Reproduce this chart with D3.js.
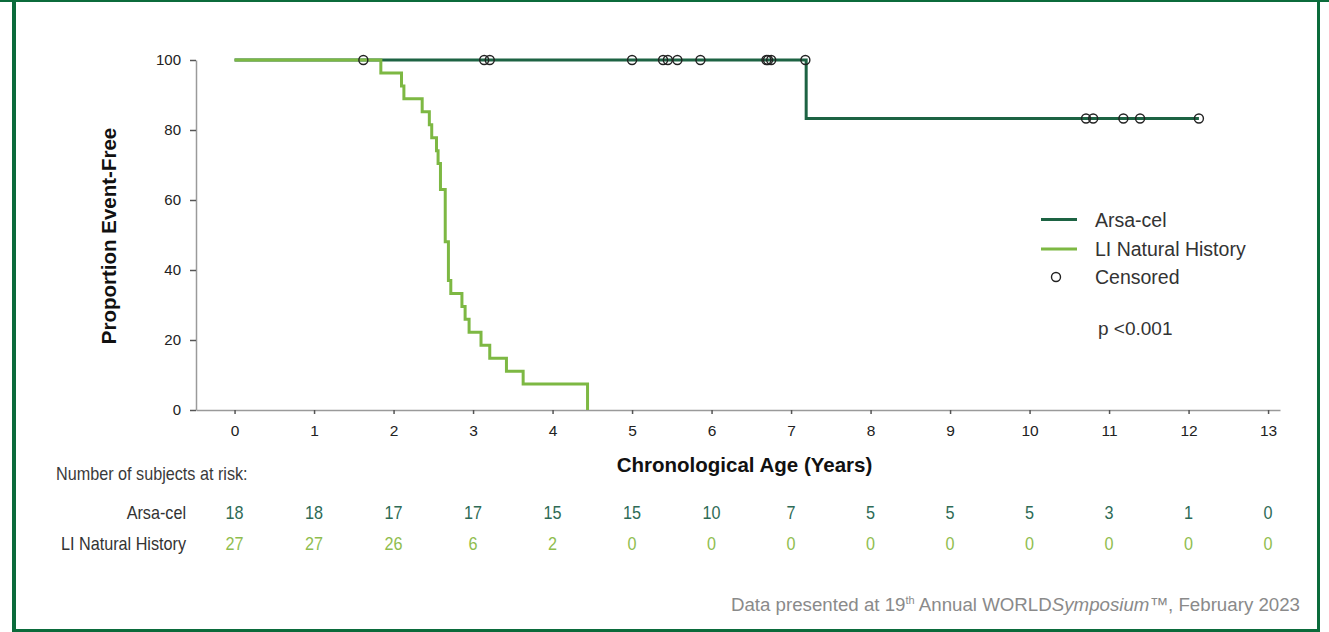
<!DOCTYPE html>
<html>
<head>
<meta charset="utf-8">
<script src="https://cdn.jsdelivr.net/npm/d3@7"></script>
<style>
  body { margin: 0; background: #fff; }
  svg { display: block; font-family: "Liberation Sans", Arial, sans-serif; }
</style>
</head>
<body>
<div id="chart"></div>
<script>
// at-risk table
const years = [0, 1, 2, 3, 4, 5, 6, 7, 8, 9, 10, 11, 12, 13];
const atRiskArsa = [18, 18, 17, 17, 15, 15, 10, 7, 5, 5, 5, 3, 1, 0];
const atRiskLI = [27, 27, 26, 6, 2, 0, 0, 0, 0, 0, 0, 0, 0, 0];

// Kaplan-Meier steps (time, % event-free)
const arsaTimes = [0, 7.19, 12.13];
const arsaSurv = [100, 83.3, 83.3];
const liTimes = [0, 1.84, 2.10, 2.13, 2.36, 2.45, 2.48, 2.54, 2.56, 2.59, 2.65, 2.69, 2.72, 2.86, 2.90, 2.95, 3.10, 3.21, 3.42, 3.63, 4.44];
const liSurv = [100, 96.3, 92.6, 88.9, 85.2, 81.5, 77.8, 74.1, 70.4, 63.0, 48.1, 37.0, 33.3, 29.6, 25.9, 22.2, 18.5, 14.8, 11.1, 7.4, 0];

// censored observations (Arsa-cel)
const arsaCensored = [1.62, 3.14, 3.21, 5.0, 5.39, 5.45, 5.57, 5.86, 6.69, 6.71, 6.75, 7.18, 10.71, 10.80, 11.18, 11.39, 12.13];

const yTicks = [0, 20, 40, 60, 80, 100];

const darkGreen = '#1d6343',
      lightGreen = '#7db843',
      frameGreen = '#0b6b3b',
      textGray = '#333';

const width = 1329, height = 632;

const svg = d3.select('#chart')
  .append('svg')
    .attr('width', width)
    .attr('height', height);

// frame
svg.append('rect').attr('x', 0).attr('y', 0).attr('width', width).attr('height', 2).attr('fill', frameGreen);
svg.append('rect').attr('x', 12).attr('y', 0).attr('width', 4).attr('height', height).attr('fill', frameGreen);
svg.append('rect').attr('x', 1317).attr('y', 0).attr('width', 3).attr('height', height).attr('fill', frameGreen);
svg.append('rect').attr('x', 12).attr('y', 629).attr('width', 1308).attr('height', 3).attr('fill', frameGreen);

const x = d3.scaleLinear().domain([-0.485, 13.15]).range([196, 1280]);
const y = d3.scaleLinear().domain([0, 100]).range([410, 60]);

// axes
const xAxis = svg.append('g')
    .attr('transform', `translate(0,${y(0)})`)
    .call(d3.axisBottom(x).tickValues(years).tickSize(4).tickSizeOuter(0).tickPadding(11));

const yAxis = svg.append('g')
    .attr('transform', `translate(${x.range()[0]},0)`)
    .call(d3.axisLeft(y).tickValues(yTicks).tickSize(6).tickSizeOuter(0).tickPadding(9));

[xAxis, yAxis].forEach((g) => {
  g.select('.domain').attr('stroke', '#9a9a9a').attr('stroke-width', 1.5);
  g.selectAll('.tick line').attr('stroke', '#555').attr('stroke-width', 1.5);
  g.selectAll('.tick text')
    .attr('fill', '#222')
    .style('font-family', '"Liberation Sans", Arial, sans-serif');
});
xAxis.selectAll('.tick text').style('font-size', '15.5px');
yAxis.selectAll('.tick text').style('font-size', '15px');

// curves
const line = d3.line()
  .x((d) => x(d[0]))
  .y((d) => y(d[1]))
  .curve(d3.curveStepAfter);

const arsaPts = arsaTimes.map((t, i) => [t, arsaSurv[i]]);
const liPts = liTimes.map((t, i) => [t, liSurv[i]]);

svg.append('path')
    .datum(arsaPts)
    .attr('d', line)
    .attr('fill', 'none')
    .attr('stroke', darkGreen)
    .attr('stroke-width', 3);

svg.append('path')
    .datum(liPts)
    .attr('d', line)
    .attr('fill', 'none')
    .attr('stroke', lightGreen)
    .attr('stroke-width', 3);

function survAt(t) {
  let s = arsaSurv[0];
  for (let i = 0; i < arsaTimes.length; i++) {
    if (arsaTimes[i] <= t) s = arsaSurv[i];
  }
  return s;
}

svg.selectAll('circle.cens')
  .data(arsaCensored)
  .enter()
    .append('circle')
    .classed('cens', true)
    .attr('cx', (d) => x(d))
    .attr('cy', (d) => y(survAt(d)))
    .attr('r', 4.5)
    .attr('fill', 'none')
    .attr('stroke', '#222')
    .attr('stroke-width', 1.4);

// axis titles
svg.append('text')
    .attr('transform', 'translate(116,236) rotate(-90)')
    .attr('text-anchor', 'middle')
    .attr('font-weight', 'bold')
    .attr('font-size', 20.5)
    .attr('fill', '#111')
    .text('Proportion Event-Free');

svg.append('text')
    .attr('x', 744.5)
    .attr('y', 472)
    .attr('text-anchor', 'middle')
    .attr('font-weight', 'bold')
    .attr('font-size', 20.5)
    .attr('fill', '#111')
    .text('Chronological Age (Years)');

// legend
const legend = svg.append('g');
const legendItems = [
  { label: 'Arsa-cel', color: darkGreen, y: 219.5 },
  { label: 'LI Natural History', color: lightGreen, y: 249 }
];
legendItems.forEach((d) => {
  legend.append('line')
    .attr('x1', 1041).attr('x2', 1077)
    .attr('y1', d.y).attr('y2', d.y)
    .attr('stroke', d.color).attr('stroke-width', 3);
  legend.append('text')
    .attr('x', 1095).attr('y', d.y + 7)
    .attr('font-size', 19.5).attr('fill', textGray)
    .text(d.label);
});
legend.append('circle')
  .attr('cx', 1056).attr('cy', 277).attr('r', 4.5)
  .attr('fill', 'none').attr('stroke', '#222').attr('stroke-width', 1.4);
legend.append('text')
  .attr('x', 1095).attr('y', 283.5)
  .attr('font-size', 19.5).attr('fill', textGray)
  .text('Censored');
legend.append('text')
  .attr('x', 1098).attr('y', 335)
  .attr('font-size', 19).attr('fill', textGray)
  .text('p <0.001');

// at-risk table (slightly condensed text)
function tableText(tx, ty, anchor, color, str) {
  return svg.append('text')
    .attr('transform', `translate(${tx},${ty}) scale(0.9,1)`)
    .attr('text-anchor', anchor)
    .attr('font-size', 18)
    .attr('fill', color)
    .text(str);
}

tableText(56, 480, 'start', '#3a3a3a', 'Number of subjects at risk:');

const rows = [
  { label: 'Arsa-cel', values: atRiskArsa, color: '#2e6b56', y: 518.5 },
  { label: 'LI Natural History', values: atRiskLI, color: '#8fbd4e', y: 549.5 }
];
rows.forEach((r) => {
  tableText(186, r.y, 'end', textGray, r.label);
  r.values.forEach((v, i) => tableText(x(years[i]), r.y, 'middle', r.color, v));
});

// footer
const foot = svg.append('text')
    .attr('x', 1300).attr('y', 611)
    .attr('text-anchor', 'end')
    .attr('font-size', 18.7)
    .attr('fill', '#8a8a8a');
foot.append('tspan').text('Data presented at 19');
foot.append('tspan').attr('font-size', 11).attr('dy', -7).text('th');
foot.append('tspan').attr('dy', 7).text(' Annual WORLD');
foot.append('tspan').attr('font-style', 'italic').text('Symposium');
foot.append('tspan').text('\u2122, February 2023');
</script>
</body>
</html>
